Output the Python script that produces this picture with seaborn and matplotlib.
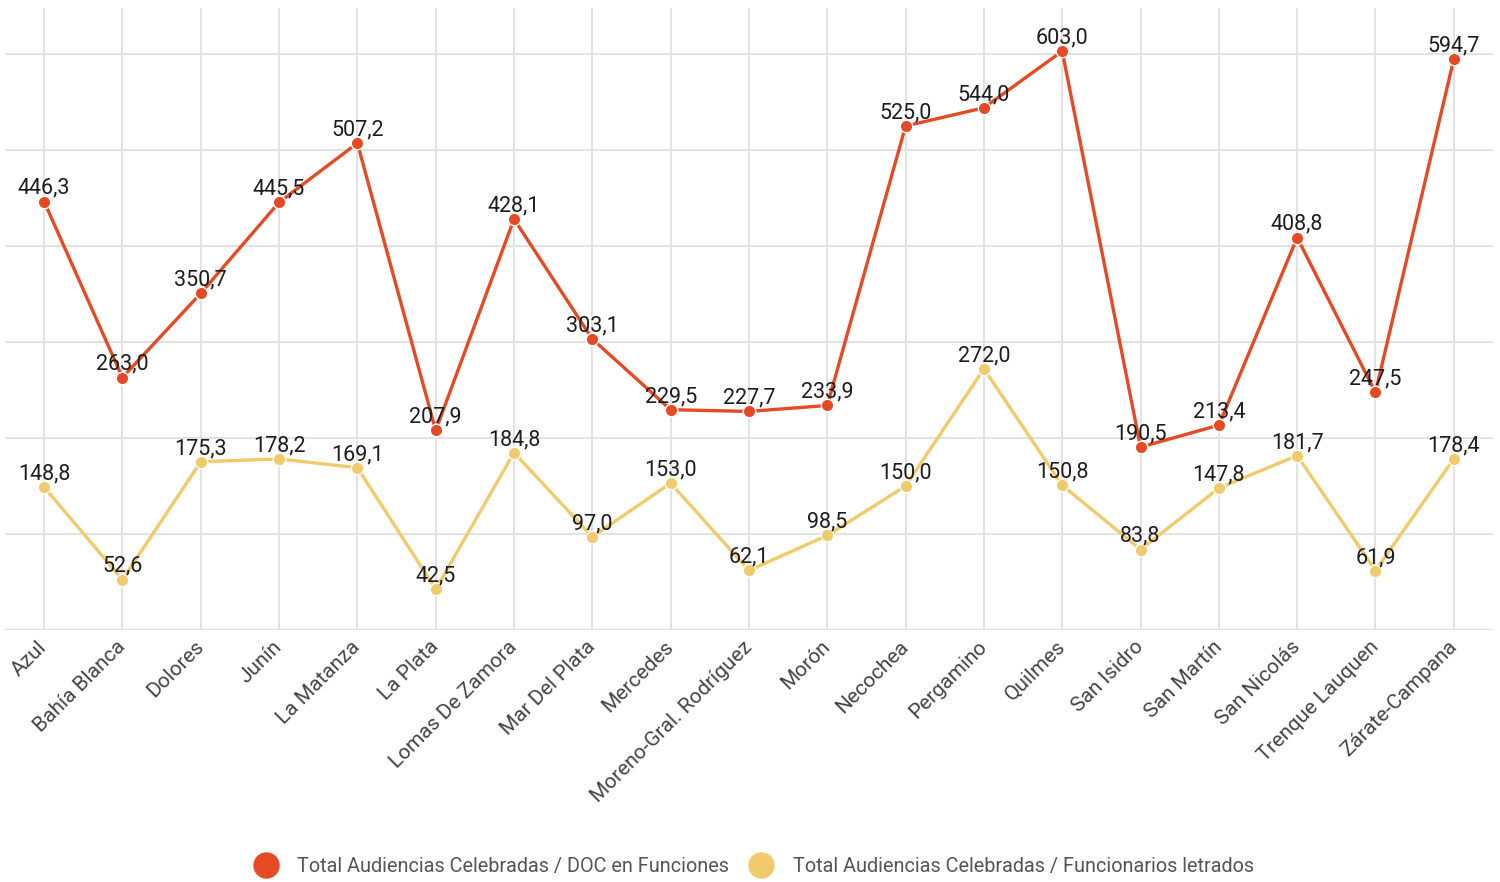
import pandas as pd
import matplotlib
matplotlib.use("Agg")
import matplotlib.pyplot as plt
from matplotlib.lines import Line2D
import seaborn as sns

# ------------------------------
# DATA
# ------------------------------
sedes = [
    "Azul", "Bahía Blanca", "Dolores", "Junín", "La Matanza", "La Plata",
    "Lomas De Zamora", "Mar Del Plata", "Mercedes", "Moreno-Gral. Rodríguez",
    "Morón", "Necochea", "Pergamino", "Quilmes", "San Isidro", "San Martín",
    "San Nicolás", "Trenque Lauquen", "Zárate-Campana",
]
doc_funciones = [
    446.3, 263.0, 350.7, 445.5, 507.2, 207.9, 428.1, 303.1, 229.5, 227.7,
    233.9, 525.0, 544.0, 603.0, 190.5, 213.4, 408.8, 247.5, 594.7,
]
funcionarios = [
    148.8, 52.6, 175.3, 178.2, 169.1, 42.5, 184.8, 97.0, 153.0, 62.1,
    98.5, 150.0, 272.0, 150.8, 83.8, 147.8, 181.7, 61.9, 178.4,
]
serie_doc = "Total Audiencias Celebradas / DOC en Funciones"
serie_fun = "Total Audiencias Celebradas / Funcionarios letrados"
colores = {serie_doc: "#E64A24", serie_fun: "#F1CB6B"}

df = pd.concat([
    pd.DataFrame({"sede": sedes, "valor": doc_funciones, "serie": serie_doc}),
    pd.DataFrame({"sede": sedes, "valor": funcionarios, "serie": serie_fun}),
])

# ------------------------------
# PLOT
# ------------------------------
sns.set_style("white")
plt.rcParams["font.family"] = ["Roboto", "DejaVu Sans"]

fig = plt.figure(figsize=(15, 8.82), dpi=100)
ax = fig.add_axes([0.0033, 0.2857, 0.992, 0.7053])

sns.lineplot(
    data=df, x="sede", y="valor", hue="serie", palette=colores,
    sort=False, marker="o", markersize=9, linewidth=2.4,
    markeredgecolor="white", markeredgewidth=1, legend=False, ax=ax,
)

for vals in (doc_funciones, funcionarios):
    for i, v in enumerate(vals):
        ax.annotate(f"{v:.1f}".replace(".", ","), (i, v),
                    xytext=(0, 5.5), textcoords="offset points",
                    ha="center", va="baseline", fontsize=15.5, color="#1d1d1d")

ax.set_xlim(-0.5, len(sedes) - 0.5)
ax.set_ylim(0, 648)
ax.set_yticks(range(0, 700, 100))
ax.set_yticklabels([])
ax.set_xticks(range(len(sedes)))
ax.set_xticklabels(sedes, rotation=45, ha="right", va="center",
                   rotation_mode="anchor", fontsize=15, color="#444444")
ax.tick_params(axis="x", length=0, pad=10)
ax.tick_params(axis="y", length=0)
ax.set_xlabel("")
ax.set_ylabel("")
ax.grid(True, color="#e2e2e2", linewidth=1.4)
ax.set_axisbelow(True)
for s in ax.spines.values():
    s.set_visible(False)
ax.axhline(0, color="#d0d0d0", linewidth=1.6, zorder=0)

handles = [
    Line2D([], [], marker="o", linestyle="", markersize=18,
           color=colores[serie_doc], label=serie_doc),
    Line2D([], [], marker="o", linestyle="", markersize=18,
           color=colores[serie_fun], label=serie_fun),
]
fig.legend(handles=handles, loc="center", bbox_to_anchor=(0.5, 0.018),
           ncol=2, frameon=False, fontsize=14.3, labelcolor="#555555",
           handletextpad=0.6, columnspacing=0.6)

fig.savefig("out.png", dpi=100)
